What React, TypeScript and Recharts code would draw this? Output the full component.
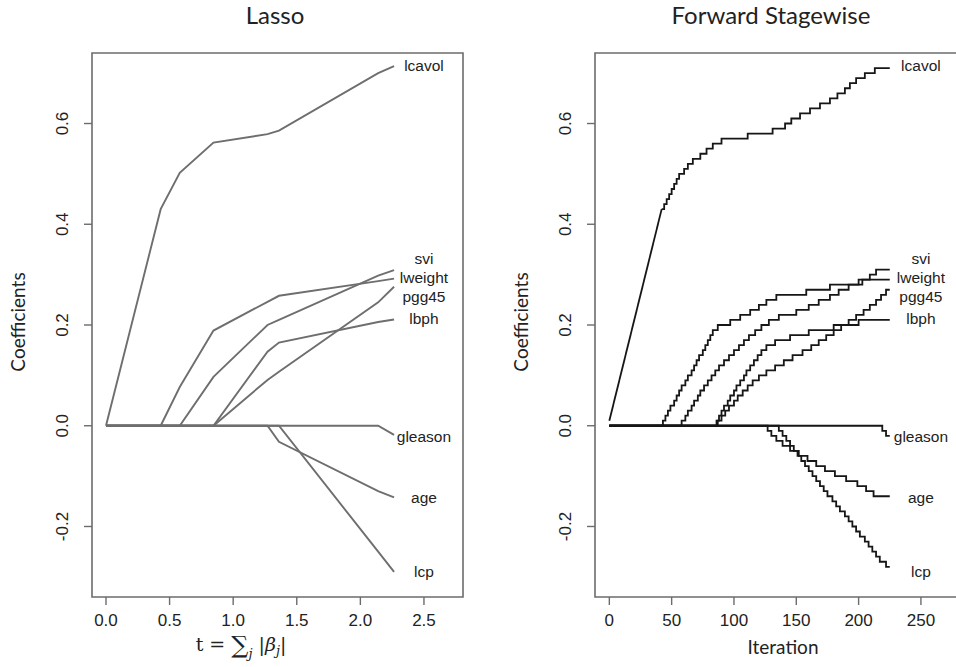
import React from "react";
import { LineChart, Line, XAxis, YAxis, ReferenceDot, ReferenceArea } from "recharts";

const SANS = "'Liberation Sans', Arial, Helvetica, sans-serif";
const GILL = "Lato, 'Open Sans', sans-serif";
const SERIF = "'DejaVu Serif', 'Liberation Serif', serif";
const TEXT = "#222";
const FRAME = "#6c6c6c";
const LASSO_COLOR = "#6e6e6e";
const STAGE_COLOR = "#161616";

// ---- labels at the right end of the paths ----
const LABEL_NAMES = ["lcavol", "svi", "lweight", "pgg45", "lbph", "gleason", "age", "lcp"];
const LABEL_Y = [0.716, 0.333, 0.294, 0.256, 0.213, -0.021, -0.143, -0.289];

// ---- lasso path (breakpoints in t) ----
const LASSO_T = [0, 0.43, 0.58, 0.845, 1.27, 1.36, 2.14, 2.265];
const LASSO_LCAVOL = [0, 0.43, 0.502, 0.562, 0.579, 0.586, 0.7, 0.714];
const LASSO_LWEIGHT = [0, 0, 0.077, 0.189, 0.246, 0.258, 0.287, 0.292];
const LASSO_SVI = [0, 0, 0, 0.097, 0.2, 0.21, 0.298, 0.309];
const LASSO_LBPH = [0, 0, 0, 0, 0.147, 0.165, 0.206, 0.211];
const LASSO_PGG45 = [0, 0, 0, 0, 0.091, 0.107, 0.245, 0.276];
const LASSO_AGE = [0, 0, 0, 0, 0, -0.032, -0.13, -0.142];
const LASSO_LCP = [0, 0, 0, 0, 0, 0, -0.25, -0.29];
const LASSO_GLEASON = [0, 0, 0, 0, 0, 0, 0, -0.018];

// ---- forward stagewise path: [iteration, coefficient] change points ----
const SW_LCAVOL_RAMP = [[0, 0.01], [42, 0.43]];
const SW_LCAVOL = [[42, 0.43], [44, 0.44], [46, 0.45], [48, 0.46], [50, 0.47], [52, 0.48], [54, 0.49], [56, 0.5], [60, 0.51], [63, 0.52], [67, 0.53], [73, 0.54], [78, 0.55], [83, 0.56], [90, 0.57], [111, 0.58], [131, 0.59], [141, 0.6], [146, 0.61], [153, 0.62], [161, 0.63], [169, 0.64], [177, 0.65], [183, 0.66], [189, 0.67], [193, 0.68], [198, 0.69], [205, 0.7], [213, 0.71], [225, 0.71]];
const SW_LWEIGHT = [[0, 0], [43, 0.01], [45, 0.02], [47, 0.03], [49, 0.04], [52, 0.05], [54, 0.06], [56, 0.07], [58, 0.08], [61, 0.09], [63, 0.1], [66, 0.11], [68, 0.12], [70, 0.13], [72, 0.14], [75, 0.15], [77, 0.16], [79, 0.17], [81, 0.18], [83, 0.19], [87, 0.2], [97, 0.21], [105, 0.22], [113, 0.23], [120, 0.24], [126, 0.25], [134, 0.26], [158, 0.27], [177, 0.28], [200, 0.29], [225, 0.29]];
const SW_SVI = [[0, 0], [58, 0.01], [61, 0.02], [63, 0.03], [66, 0.04], [68, 0.05], [71, 0.06], [73, 0.07], [76, 0.08], [79, 0.09], [82, 0.1], [85, 0.11], [88, 0.12], [92, 0.13], [96, 0.14], [100, 0.15], [104, 0.16], [108, 0.17], [112, 0.18], [117, 0.19], [122, 0.2], [128, 0.21], [136, 0.22], [150, 0.23], [160, 0.24], [168, 0.25], [177, 0.26], [184, 0.27], [192, 0.28], [203, 0.29], [209, 0.3], [214, 0.31], [225, 0.31]];
const SW_LBPH = [[0, 0], [86, 0.01], [88, 0.02], [90, 0.03], [92, 0.04], [95, 0.05], [97, 0.06], [100, 0.07], [102, 0.08], [105, 0.09], [108, 0.1], [110, 0.11], [113, 0.12], [116, 0.13], [119, 0.14], [122, 0.15], [126, 0.16], [133, 0.17], [145, 0.18], [160, 0.19], [180, 0.2], [200, 0.21], [225, 0.21]];
const SW_PGG45 = [[0, 0], [87, 0.01], [90, 0.02], [93, 0.03], [96, 0.04], [100, 0.05], [103, 0.06], [107, 0.07], [111, 0.08], [115, 0.09], [120, 0.1], [126, 0.11], [133, 0.12], [140, 0.13], [147, 0.14], [155, 0.15], [162, 0.16], [168, 0.17], [174, 0.18], [180, 0.19], [186, 0.2], [192, 0.21], [198, 0.22], [204, 0.23], [209, 0.24], [214, 0.25], [218, 0.26], [222, 0.27], [225, 0.27]];
const SW_AGE = [[0, 0], [127, -0.01], [130, -0.02], [134, -0.03], [139, -0.04], [145, -0.05], [152, -0.06], [159, -0.07], [166, -0.08], [173, -0.09], [181, -0.1], [190, -0.11], [199, -0.12], [206, -0.13], [212, -0.14], [225, -0.14]];
const SW_LCP = [[0, 0], [136, -0.01], [139, -0.02], [142, -0.03], [145, -0.04], [148, -0.05], [151, -0.06], [154, -0.07], [157, -0.08], [160, -0.09], [163, -0.1], [166, -0.11], [169, -0.12], [172, -0.13], [175, -0.14], [179, -0.15], [182, -0.16], [185, -0.17], [189, -0.18], [192, -0.19], [195, -0.2], [198, -0.21], [201, -0.22], [205, -0.23], [208, -0.24], [211, -0.25], [214, -0.26], [217, -0.27], [222, -0.28], [225, -0.28]];
const SW_GLEASON = [[0, 0], [219, -0.01], [222, -0.02], [225, -0.02]];

const LASSO_X_TICKS = [0, 0.5, 1, 1.5, 2, 2.5];
const ITER_TICKS = [0, 50, 100, 150, 200, 250];
const Y_TICKS = [-0.2, 0, 0.2, 0.4, 0.6];

const Y_DOMAIN = [-0.34, 0.74];
const LASSO_X_DOMAIN = [-0.11, 2.807];
const ITER_DOMAIN = [-11.5, 299];

const lassoRows = LASSO_T.map((t, i) => ({
  t,
  lcavol: LASSO_LCAVOL[i],
  lweight: LASSO_LWEIGHT[i],
  svi: LASSO_SVI[i],
  lbph: LASSO_LBPH[i],
  pgg45: LASSO_PGG45[i],
  age: LASSO_AGE[i],
  lcp: LASSO_LCP[i],
  gleason: LASSO_GLEASON[i],
}));

const toRows = (pts: number[][]) => pts.map(([iter, value]) => ({ iter, value }));

const stageSeries = [
  { name: "lweight", pts: SW_LWEIGHT },
  { name: "svi", pts: SW_SVI },
  { name: "lbph", pts: SW_LBPH },
  { name: "pgg45", pts: SW_PGG45 },
  { name: "age", pts: SW_AGE },
  { name: "lcp", pts: SW_LCP },
  { name: "gleason", pts: SW_GLEASON },
  { name: "lcavol", pts: SW_LCAVOL },
];

const lassoKeys = ["lweight", "svi", "lbph", "pgg45", "age", "lcp", "gleason", "lcavol"];

const XTick = (p: any, fmt: (v: number) => string) => (
  <text x={p.x} y={p.y + 13} textAnchor="middle" fontSize={17} fontFamily={SANS} fill={TEXT}>
    {fmt(p.payload.value)}
  </text>
);

const YTick = (p: any) => {
  const bx = p.x - 16;
  return (
    <text
      x={bx}
      y={p.y}
      transform={`rotate(-90 ${bx} ${p.y})`}
      textAnchor="middle"
      fontSize={17}
      fontFamily={SANS}
      fill={TEXT}
    >
      {Number(p.payload.value).toFixed(1)}
    </text>
  );
};

function endLabels(xAt: number) {
  return LABEL_NAMES.map((name, i) => (
    <ReferenceDot
      key={name}
      x={xAt}
      y={LABEL_Y[i]}
      r={0}
      fill="none"
      stroke="none"
      ifOverflow="visible"
      label={{ value: name, position: "center", fill: TEXT, fontSize: 15.5, fontFamily: SANS }}
    />
  ));
}

function LassoPanel() {
  return (
    <LineChart width={478} height={667} data={lassoRows} margin={{ top: 53, right: 15, bottom: 0, left: 0 }}>
      <XAxis
        dataKey="t"
        type="number"
        domain={LASSO_X_DOMAIN}
        allowDataOverflow
        ticks={LASSO_X_TICKS}
        tick={(p: any) => XTick(p, (v) => v.toFixed(1))}
        tickSize={8}
        tickMargin={8}
        axisLine={false}
        tickLine={{ stroke: FRAME, strokeWidth: 1.4 }}
        height={70}
      />
      <YAxis
        type="number"
        domain={Y_DOMAIN}
        allowDataOverflow
        ticks={Y_TICKS}
        tick={YTick}
        tickSize={8}
        tickMargin={0}
        axisLine={false}
        tickLine={{ stroke: FRAME, strokeWidth: 1.4 }}
        width={92}
      />
      <ReferenceArea
        x1={LASSO_X_DOMAIN[0]}
        x2={LASSO_X_DOMAIN[1]}
        y1={Y_DOMAIN[0]}
        y2={Y_DOMAIN[1]}
        fill="none"
        fillOpacity={0}
        stroke={FRAME}
        strokeWidth={1.6}
        ifOverflow="visible"
      />
      {lassoKeys.map((k) => (
        <Line
          key={k}
          type="linear"
          dataKey={k}
          stroke={LASSO_COLOR}
          strokeWidth={1.9}
          dot={false}
          activeDot={false}
          isAnimationActive={false}
        />
      ))}
      {endLabels(2.5)}
    </LineChart>
  );
}

function StagewisePanel() {
  return (
    <LineChart width={504} height={667} margin={{ top: 53, right: 0, bottom: 0, left: 0 }}>
      <XAxis
        dataKey="iter"
        type="number"
        domain={ITER_DOMAIN}
        allowDataOverflow
        ticks={ITER_TICKS}
        tick={(p: any) => XTick(p, (v) => String(v))}
        tickSize={8}
        tickMargin={8}
        axisLine={false}
        tickLine={{ stroke: FRAME, strokeWidth: 1.4 }}
        height={70}
      />
      <YAxis
        type="number"
        domain={Y_DOMAIN}
        allowDataOverflow
        ticks={Y_TICKS}
        tick={YTick}
        tickSize={8}
        tickMargin={0}
        axisLine={false}
        tickLine={{ stroke: FRAME, strokeWidth: 1.4 }}
        width={117}
      />
      <ReferenceArea
        x1={ITER_DOMAIN[0]}
        x2={ITER_DOMAIN[1]}
        y1={Y_DOMAIN[0]}
        y2={Y_DOMAIN[1]}
        fill="none"
        fillOpacity={0}
        stroke={FRAME}
        strokeWidth={1.6}
        ifOverflow="visible"
      />
      <Line
        data={toRows(SW_LCAVOL_RAMP)}
        type="linear"
        dataKey="value"
        stroke={STAGE_COLOR}
        strokeWidth={1.8}
        dot={false}
        activeDot={false}
        isAnimationActive={false}
      />
      {stageSeries.map((s) => (
        <Line
          key={s.name}
          data={toRows(s.pts)}
          type="stepAfter"
          dataKey="value"
          stroke={STAGE_COLOR}
          strokeWidth={1.8}
          dot={false}
          activeDot={false}
          isAnimationActive={false}
        />
      ))}
      {endLabels(250)}
    </LineChart>
  );
}

export default function App() {
  return (
    <div
      style={{
        position: "absolute",
        left: 0,
        top: 0,
        width: 956,
        height: 667,
        overflow: "hidden",
        background: "#fff",
      }}
    >
      <div style={{ position: "absolute", left: 0, top: 0 }}>
        <LassoPanel />
      </div>
      <div style={{ position: "absolute", left: 478, top: 0 }}>
        <StagewisePanel />
      </div>
      <svg
        width={956}
        height={667}
        style={{ position: "absolute", left: 0, top: 0, pointerEvents: "none" }}
      >
        <text x={275} y={24} textAnchor="middle" fontSize={24} fontFamily={GILL} fill={TEXT}>
          Lasso
        </text>
        <text x={771} y={24} textAnchor="middle" fontSize={24} fontFamily={GILL} fill={TEXT}>
          Forward Stagewise
        </text>
        <text
          x={25}
          y={322}
          transform="rotate(-90 25 322)"
          textAnchor="middle"
          fontSize={19}
          fontFamily={GILL}
          fill={TEXT}
        >
          Coefficients
        </text>
        <text
          x={528}
          y={322}
          transform="rotate(-90 528 322)"
          textAnchor="middle"
          fontSize={19}
          fontFamily={GILL}
          fill={TEXT}
        >
          Coefficients
        </text>
        <text x={783} y={654} textAnchor="middle" fontSize={19} fontFamily={GILL} fill={TEXT}>
          Iteration
        </text>
        <text x={241} y={651} textAnchor="middle" fontSize={19} fontFamily={SERIF} fill={TEXT}>
          <tspan>t = </tspan>
          <tspan fontSize={24} dy={2}>∑</tspan>
          <tspan fontSize={13} fontStyle="italic" dy={5}>j</tspan>
          <tspan dy={-7}> |</tspan>
          <tspan fontStyle="italic">β</tspan>
          <tspan fontSize={13} fontStyle="italic" dy={4}>j</tspan>
          <tspan dy={-4}>|</tspan>
        </text>
      </svg>
    </div>
  );
}
